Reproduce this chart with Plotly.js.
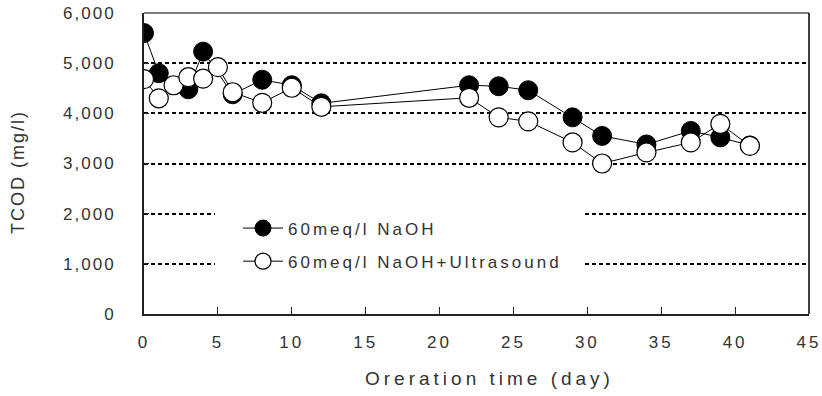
<!DOCTYPE html>
<html>
<head>
<meta charset="utf-8">
<script src="https://cdn.plot.ly/plotly-3.0.1.min.js"></script>
<style>
html,body{margin:0;padding:0;background:#fff;}
#chart{width:822px;height:396px;}
.legendtext{letter-spacing:3px;}
.xtick text{letter-spacing:3px;}
.ytick text{letter-spacing:2px;}
.annotation[data-index="0"] .annotation-text{letter-spacing:4px;}
.annotation[data-index="1"] .annotation-text{letter-spacing:2px;}
</style>
</head>
<body>
<div id="chart"></div>
<script>
var daysNaOH = [0, 1, 3, 4, 6, 8, 10, 12, 22, 24, 26, 29, 31, 34, 37, 39, 41];
var tcodNaOH = [5600, 4800, 4480, 5230, 4380, 4670, 4560, 4200, 4560, 4540, 4460, 3920, 3550, 3380, 3650, 3520, 3360];
var daysUS = [0, 1, 2, 3, 4, 5, 6, 8, 10, 12, 22, 24, 26, 29, 31, 34, 37, 39, 41];
var tcodUS = [4680, 4300, 4560, 4720, 4690, 4920, 4420, 4210, 4510, 4130, 4310, 3920, 3840, 3420, 3000, 3220, 3420, 3790, 3350];
var nameNaOH = "60meq/l NaOH";
var nameUS = "60meq/l NaOH+Ultrasound";
var xTitle = "Oreration time (day)";
var yTitle = "TCOD (mg/l)";

var font = "Liberation Sans, Arial, sans-serif";

var traces = [
  {x: daysNaOH, y: tcodNaOH, name: nameNaOH, type: "scatter", mode: "lines+markers",
   legendgroup: "a",
   line: {color: "#000", width: 1},
   marker: {symbol: "circle", size: 19, color: "#000", line: {color: "#000", width: 1}}},
  {x: daysUS, y: tcodUS, name: nameUS, type: "scatter", mode: "lines+markers",
   legendgroup: "b",
   line: {color: "#000", width: 1},
   marker: {symbol: "circle", size: 19, color: "#fff", line: {color: "#000", width: 1.2}}}
];

var layout = {
  width: 822, height: 396,
  margin: {l: 144, r: 13, t: 13, b: 82},
  paper_bgcolor: "#fff", plot_bgcolor: "#fff",
  showlegend: true,
  legend: {x: 0.1414, y: 0.3438, xanchor: "left", yanchor: "top",
           bgcolor: "rgba(0,0,0,0)", borderwidth: 0,
           traceorder: "grouped", tracegroupgap: 8, itemwidth: 40,
           font: {family: font, size: 17, color: "#333"}},
  xaxis: {range: [0, 45], dtick: 5, tick0: 0,
          showgrid: false, zeroline: false,
          showline: true, linecolor: "#222", linewidth: 2, mirror: false,
          ticks: "inside", ticklen: 7, tickwidth: 1, tickcolor: "#222",
          ticklabelstandoff: 12,
          tickfont: {family: font, size: 17, color: "#333"}},
  yaxis: {range: [0, 6000], dtick: 1000, tick0: 0, tickformat: ",d",
          showgrid: true, gridcolor: "#000", gridwidth: 2, griddash: "4px,3px",
          zeroline: false,
          showline: true, linecolor: "#222", linewidth: 2,
          ticks: "inside", ticklen: 5, tickwidth: 1, tickcolor: "#222",
          ticklabelstandoff: 23,
          tickfont: {family: font, size: 17, color: "#333"}},
  annotations: [
    {text: xTitle, xref: "paper", yref: "paper", x: (489 - 144) / 665, y: (314 - 378) / 301,
     xanchor: "center", yanchor: "middle", showarrow: false,
     font: {family: font, size: 19, color: "#333"}},
    {text: yTitle, xref: "paper", yref: "paper", x: (18.5 - 144) / 665, y: (314 - 171.5) / 301,
     xanchor: "center", yanchor: "middle", showarrow: false, textangle: -90,
     font: {family: font, size: 18, color: "#333"}}
  ],
  shapes: [
    {type: "rect", xref: "x", yref: "y", x0: 4.8, x1: 29.84, y0: 700, y1: 2300, layer: "above",
     fillcolor: "#fff", line: {width: 0}},
    {type: "line", xref: "paper", yref: "paper", x0: 1, x1: 1, y0: 0, y1: 1, line: {color: "#000", width: 1.5}},
    {type: "line", xref: "paper", yref: "paper", x0: 0, x1: 1, y0: 1, y1: 1, line: {color: "#000", width: 1}}
  ]
};

Plotly.newPlot("chart", traces, layout, {displayModeBar: false, staticPlot: true});
</script>
</body>
</html>
